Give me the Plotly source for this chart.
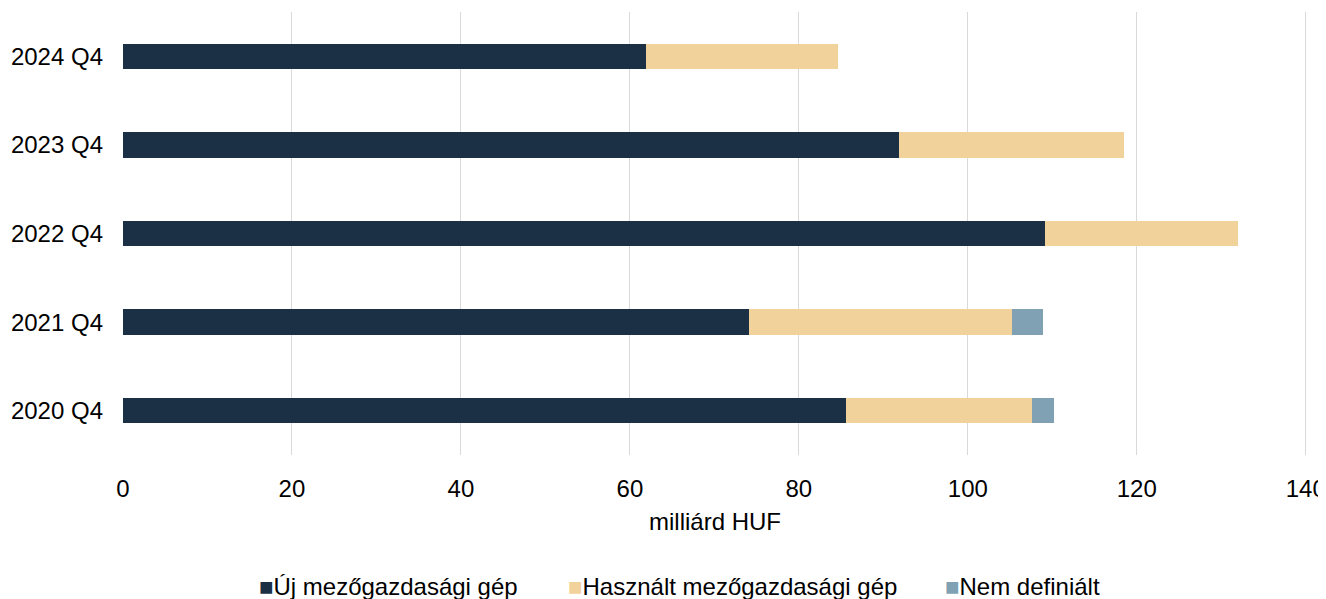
import plotly.graph_objects as go

categories = ["2020 Q4", "2021 Q4", "2022 Q4", "2023 Q4", "2024 Q4"]
uj = [85.6, 74.1, 109.1, 91.8, 61.9]
hasznalt = [22.0, 31.1, 22.9, 26.7, 22.7]
nem_def = [2.6, 3.7, 0.0, 0.0, 0.0]

series = [
    ("Új mezőgazdasági gép", uj, "#1b3045"),
    ("Használt mezőgazdasági gép", hasznalt, "#f1d29a"),
    ("Nem definiált", nem_def, "#7fa1b3"),
]
legend_x = [0.113, 0.374, 0.6925]

FONT = "Liberation Sans, Arial, sans-serif"
FS = 24
fig = go.Figure()
for (name, vals, col), lx in zip(series, legend_x):
    fig.add_trace(go.Bar(
        y=categories, x=vals, name=name, orientation="h",
        marker=dict(color=col, line=dict(width=0)), width=0.285, showlegend=False,
    ))
    fig.add_annotation(
        xref="paper", yref="paper", x=lx, y=-0.296, xanchor="left", yanchor="middle",
        showarrow=False,
        text=f"<span style='color:{col}'>■</span>{name}",
        font=dict(family=FONT, size=FS, color="#000000"),
    )

fig.update_layout(
    barmode="stack",
    width=1318, height=591,
    margin=dict(l=115, r=19, t=4, b=144, autoexpand=False),
    plot_bgcolor="white", paper_bgcolor="white",
    font=dict(family=FONT, size=FS, color="#000000"),
    xaxis=dict(range=[0, 140.15], dtick=20, showgrid=True, gridcolor="#d9d9d9", gridwidth=1,
               zeroline=False, showline=False, ticks="", ticklabelstandoff=17,
               automargin=False, ticklabeloverflow="allow",
               title=dict(text="milliárd HUF", standoff=12, font=dict(size=FS))),
    yaxis=dict(showgrid=False, showline=False, ticks="", ticklabelstandoff=19,
               automargin=False,
               categoryorder="array", categoryarray=categories),
)

fig.write_html("out.html")
